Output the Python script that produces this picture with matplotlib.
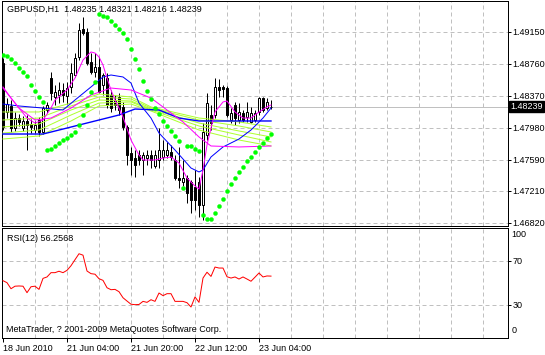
import matplotlib
matplotlib.use("Agg")
import matplotlib.pyplot as plt
import numpy as np

plt.rcParams["font.family"] = ["Liberation Sans", "DejaVu Sans"]

# GBPUSD H1 candles (bar 0 = 18 Jun 2010)
opens = [
    1.48771, 1.48174, 1.48247, 1.47978, 1.48100, 1.47978, 1.48064, 1.48027, 1.47954, 1.48076,
    1.47930, 1.48198, 1.48588, 1.48357, 1.48381, 1.48442, 1.48369, 1.48479, 1.48625, 1.48845,
    1.49186, 1.49150, 1.48784, 1.48662, 1.48723, 1.48503, 1.48588, 1.48381, 1.48320, 1.48357,
    1.48235, 1.47991, 1.47673, 1.47612, 1.47649, 1.47588, 1.47612, 1.47649, 1.47515, 1.47588,
    1.47625, 1.47649, 1.47686, 1.47588, 1.47368, 1.47320, 1.47368, 1.47320, 1.47259, 1.47320,
    1.47039, 1.47893, 1.48137, 1.48137, 1.48479, 1.48479, 1.48466, 1.48076, 1.48259, 1.48076,
    1.48161, 1.48113, 1.48052, 1.48076, 1.48174, 1.48344, 1.48222, 1.48235]
highs = [
    1.48832, 1.48344, 1.48320, 1.48174, 1.48149, 1.48125, 1.48137, 1.48088, 1.48064, 1.48113,
    1.48247, 1.48296, 1.48662, 1.48503, 1.48540, 1.48527, 1.48540, 1.48771, 1.48893, 1.49259,
    1.49333, 1.49198, 1.48893, 1.48893, 1.48845, 1.48649, 1.48649, 1.48442, 1.48381, 1.48405,
    1.48296, 1.48015, 1.47747, 1.47710, 1.47710, 1.47686, 1.47710, 1.47710, 1.47710, 1.47978,
    1.47832, 1.47808, 1.47771, 1.47649, 1.47747, 1.47588, 1.47405, 1.47344, 1.47466, 1.47381,
    1.48039, 1.48405, 1.48259, 1.48588, 1.48576, 1.48503, 1.48491, 1.48222, 1.48296, 1.48283,
    1.48198, 1.48296, 1.48235, 1.48198, 1.48357, 1.48357, 1.48344, 1.48321]
lows = [
    1.47954, 1.48100, 1.47930, 1.47942, 1.48003, 1.47942, 1.47710, 1.47917, 1.47917, 1.47881,
    1.47905, 1.48161, 1.48320, 1.48259, 1.48283, 1.48296, 1.48271, 1.48405, 1.48601, 1.48808,
    1.49113, 1.48747, 1.48637, 1.48601, 1.48405, 1.48381, 1.48222, 1.48174, 1.48198, 1.48137,
    1.47954, 1.47527, 1.47405, 1.47381, 1.47527, 1.47405, 1.47527, 1.47490, 1.47490, 1.47490,
    1.47588, 1.47612, 1.47588, 1.47344, 1.47246, 1.47271, 1.47063, 1.46941, 1.46978, 1.46893,
    1.46856, 1.47832, 1.47954, 1.48100, 1.48357, 1.48357, 1.48113, 1.48039, 1.48015, 1.48039,
    1.48052, 1.48052, 1.48039, 1.48052, 1.48137, 1.48174, 1.48198, 1.48216]
closes = [
    1.47991, 1.48271, 1.47978, 1.48100, 1.48052, 1.48064, 1.48015, 1.47991, 1.48015, 1.47930,
    1.48222, 1.48259, 1.48405, 1.48418, 1.48442, 1.48381, 1.48466, 1.48649, 1.48832, 1.49174,
    1.49137, 1.48771, 1.48662, 1.48723, 1.48418, 1.48625, 1.48259, 1.48222, 1.48259, 1.48198,
    1.47991, 1.47649, 1.47588, 1.47527, 1.47588, 1.47649, 1.47649, 1.47588, 1.47649, 1.47710,
    1.47710, 1.47710, 1.47625, 1.47368, 1.47344, 1.47368, 1.47185, 1.47100, 1.47100, 1.47039,
    1.47930, 1.48283, 1.48039, 1.48479, 1.48442, 1.48454, 1.48137, 1.48161, 1.48100, 1.48174,
    1.48076, 1.48174, 1.48161, 1.48161, 1.48344, 1.48198, 1.48296, 1.48239]

# Parabolic SAR, one dot per bar
sar = [
    1.48869, 1.48857, 1.48820, 1.48771, 1.48710, 1.48662, 1.48613, 1.48503, 1.48430, 1.48357,
    1.48296, 1.47710, 1.47722, 1.47759, 1.47795, 1.47832, 1.47856, 1.47893, 1.47930, 1.48015,
    1.48137, 1.48259, 1.48418, 1.48540, 1.49369, 1.49345, 1.49333, 1.49284, 1.49235, 1.49186,
    1.49137, 1.49064, 1.48942, 1.48820, 1.48698, 1.48552, 1.48430, 1.48332, 1.48222, 1.48149,
    1.48064, 1.48003, 1.47942, 1.47881, 1.47820, 1.47246, 1.47759, 1.47759, 1.47722, 1.47698,
    1.46917, 1.46868, 1.46868, 1.46941, 1.47027, 1.47112, 1.47210, 1.47295, 1.47368, 1.47442,
    1.47503, 1.47576, 1.47625, 1.47686, 1.47747, 1.47795, 1.47856, 1.47905]

# RSI(12)
rsi = [
    52.1, 50.3, 44.8, 47.1, 47.3, 47.1, 41.2, 46.6, 47.1, 44.2,
    54.2, 55.5, 59.4, 59.4, 60.7, 59.4, 61.5, 65.7, 71.2, 76.6,
    75.3, 60.9, 58.5, 58.0, 53.9, 52.4, 45.7, 43.9, 44.2, 42.1,
    36.6, 33.6, 30.7, 30.3, 30.5, 33.3, 32.4, 34.8, 33.3, 40.9,
    38.5, 40.3, 40.3, 33.3, 33.3, 33.3, 32.1, 28.2, 37.3, 32.4,
    54.5, 59.8, 56.0, 64.5, 63.6, 63.6, 55.7, 54.5, 55.5, 53.6,
    55.5, 53.6, 51.6, 55.3, 59.1, 55.5, 56.4, 56.2568]

# moving averages read at a few bars
fast_bars = [0, 2, 4, 6, 8, 10, 12, 13, 16, 18, 20, 22, 23, 24, 25, 26, 27, 28, 29, 30,
             32, 34, 35, 38, 40, 42, 44, 46, 48, 49, 50, 51, 52, 53, 55, 56, 58, 60, 62,
             64, 66, 67]
fast_vals = [1.48479, 1.48344, 1.48222, 1.48100, 1.48039, 1.48076, 1.48222, 1.48320,
             1.48442, 1.48588, 1.48808, 1.48906, 1.48893, 1.48845, 1.48747, 1.48588,
             1.48442, 1.48320, 1.48222, 1.48113, 1.47832, 1.47649, 1.47588, 1.47588,
             1.47612, 1.47625, 1.47551, 1.47368, 1.47271, 1.47234, 1.47466, 1.47771,
             1.47978, 1.48174, 1.48296, 1.48308, 1.48174, 1.48100, 1.48100, 1.48174,
             1.48235, 1.48259]
slowm_bars = [0, 4, 8, 12, 17, 22, 27, 32, 37, 40, 45, 49, 52, 59, 67]
slowm_vals = [1.48466, 1.48222, 1.48076, 1.48100, 1.48222, 1.48381, 1.48466, 1.48442,
              1.48344, 1.48235, 1.48052, 1.47869, 1.47759, 1.47747, 1.47759]
mid_bars = [0, 4, 10, 15, 18, 22, 25, 27, 30, 32, 34, 37, 39, 43, 47, 49, 50, 52, 55,
            59, 62, 65, 67]
mid_vals = [1.48271, 1.48247, 1.48222, 1.48198, 1.48320, 1.48479, 1.48601, 1.48625,
            1.48601, 1.48527, 1.48283, 1.48100, 1.47917, 1.47710, 1.47490, 1.47442,
            1.47466, 1.47625, 1.47747, 1.47844, 1.47954, 1.48100, 1.48222]
slow_bars = [0, 10, 16, 24, 29, 33, 39, 44, 49, 67]
slow_vals = [1.47905, 1.47905, 1.47978, 1.48076, 1.48137, 1.48210, 1.48198, 1.48100,
             1.48064, 1.48064]
ribbon_bars = [0, 9, 17, 24, 32, 37, 49, 59, 67]
ribbon_1 = [1.48174, 1.48174, 1.48283, 1.48393, 1.48357, 1.48235, 1.48100, 1.48052, 1.47991]
ribbon_2 = [1.48076, 1.48100, 1.48247, 1.48357, 1.48332, 1.48222, 1.48076, 1.48003, 1.47930]
ribbon_3 = [1.47991, 1.48027, 1.48198, 1.48320, 1.48308, 1.48210, 1.48039, 1.47942, 1.47869]
ribbon_4 = [1.47917, 1.47954, 1.48137, 1.48283, 1.48296, 1.48198, 1.48003, 1.47893, 1.47808]
ribbon_5 = [1.47844, 1.47881, 1.48064, 1.48247, 1.48271, 1.48186, 1.47954, 1.47832, 1.47759]

price_ticks = [1.49150, 1.48760, 1.48370, 1.47980, 1.47590, 1.47210, 1.46820]
time_ticks = [0, 16, 32, 48, 64]
time_labels = ["18 Jun 2010", "21 Jun 04:00", "21 Jun 20:00", "22 Jun 12:00", "23 Jun 04:00"]
last_price = 1.48239

W, H = 545, 355
fig = plt.figure(figsize=(W / 100, H / 100), dpi=100)
fig.patch.set_facecolor("white")

def box(left, top, right, bottom):
    return [left / W, 1 - bottom / H, (right - left) / W, (bottom - top) / H]

ax = fig.add_axes(box(1.5, 1, 507.5, 225.5))
ax_rsi = fig.add_axes(box(1.5, 228, 507.5, 338))

px = 0.72
fs = 6.5
grid_kw = dict(color="#C0C0C0", lw=px, dashes=(4, 3), zorder=0)
for a in (ax, ax_rsi):
    a.set_xlim(-0.375, 126.125)
    for s in a.spines.values():
        s.set_linewidth(px)
        s.set_color("black")
    for b in range(8, 121, 8):
        a.axvline(b, **grid_kw)

ax.set_ylim(1.467889, 1.495278)
ax_rsi.set_ylim(0, 100)
for p in price_ticks:
    ax.axhline(p, **grid_kw)
for v in (70, 30):
    ax_rsi.axhline(v, **grid_kw)

idx = np.arange(len(closes))
o, h, l, c = map(np.array, (opens, highs, lows, closes))

ax.axhline(last_price, color="#C0C0C0", lw=px, zorder=1)

ax.vlines(idx, l, h, color="black", lw=px, zorder=2)
up = c >= o
ax.bar(idx, np.abs(c - o), bottom=np.minimum(o, c), width=0.5,
       color=np.where(up, "white", "black"), edgecolor="black", linewidth=px, zorder=3)

for vals in (ribbon_5, ribbon_4, ribbon_3, ribbon_2, ribbon_1):
    ax.plot(ribbon_bars, vals, color="#ADFF2F", lw=px, zorder=4)
ax.plot(slow_bars, slow_vals, color="#0000FF", lw=1.0, zorder=5)
ax.plot(mid_bars, mid_vals, color="#0000FF", lw=px, zorder=5)
ax.plot(slowm_bars, slowm_vals, color="#FF00FF", lw=px, zorder=5)
ax.plot(fast_bars, fast_vals, color="#FF00FF", lw=px, zorder=5)
ax.plot(idx, sar, ls="none", marker="o", ms=2.9, color="#00FF00", mec="#00FF00",
        mew=0.3, zorder=6)

ax.yaxis.tick_right()
ax.set_yticks(price_ticks)
ax.set_yticklabels([f"{p:.5f}" for p in price_ticks])
ax.tick_params(axis="y", length=2.5, width=px, pad=1.2, labelsize=fs, colors="black")
ax.set_xticks([])

ax.annotate(f"{last_price:.5f}", xy=(1.0, last_price), xycoords=("axes fraction", "data"),
            xytext=(2.2, 0), textcoords="offset points", ha="left", va="center",
            fontsize=fs, color="white",
            bbox=dict(boxstyle="square,pad=0.15", fc="black", ec="black"),
            annotation_clip=False, zorder=10)

ax.text(0.011, 0.962, "GBPUSD,H1  1.48235 1.48321 1.48216 1.48239", transform=ax.transAxes,
        fontsize=fs, ha="left", va="center")

ax_rsi.plot(idx, rsi, color="#FF0000", lw=px, zorder=3)
ax_rsi.yaxis.tick_right()
ax_rsi.set_yticks([70, 30])
ax_rsi.set_yticklabels(["70", "30"])
ax_rsi.tick_params(axis="y", length=2.5, width=px, pad=1.2, labelsize=fs)
ax_rsi.text(1.008, 0.94, "100", transform=ax_rsi.transAxes, fontsize=fs, ha="left", va="center")
ax_rsi.text(1.008, 0.064, "0", transform=ax_rsi.transAxes, fontsize=fs, ha="left", va="center")
ax_rsi.set_xticks(time_ticks)
ax_rsi.set_xticklabels(time_labels, ha="left")
ax_rsi.tick_params(axis="x", length=3, width=px, pad=1, labelsize=fs)

ax_rsi.text(0.011, 0.905, "RSI(12) 56.2568", transform=ax_rsi.transAxes,
            fontsize=fs, ha="left", va="center")
ax_rsi.text(0.009, 0.08, "MetaTrader, ? 2001-2009 MetaQuotes Software Corp.",
            transform=ax_rsi.transAxes, fontsize=fs, ha="left", va="center")

fig.savefig("out.png", dpi=100, facecolor="white")
